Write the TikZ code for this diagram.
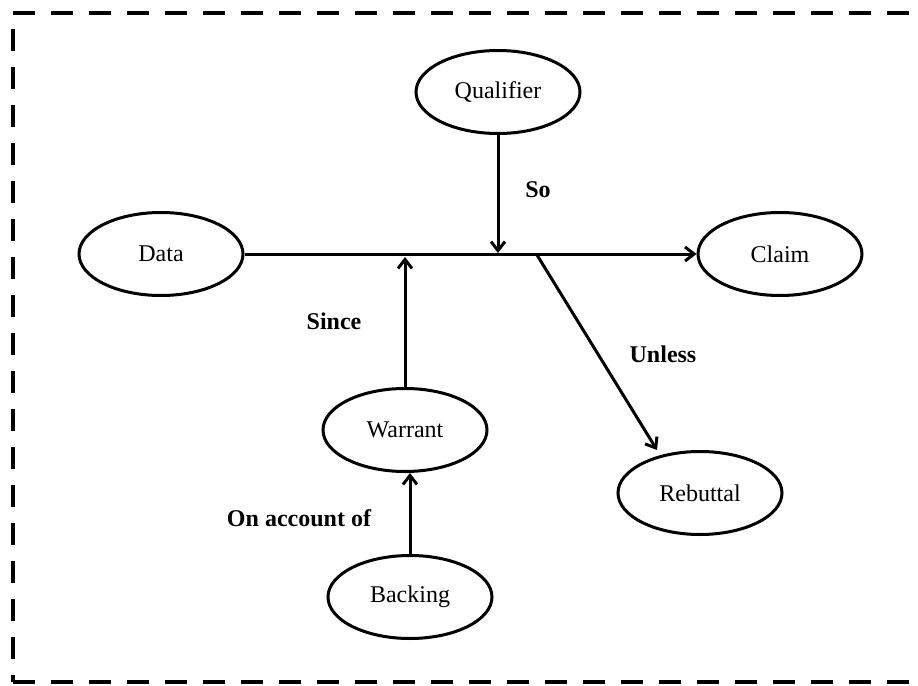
\documentclass[tikz,border=0pt]{standalone}
\usepackage{fontspec}
\setmainfont{Liberation Serif}
\usetikzlibrary{shapes.geometric,arrows.meta}
\begin{document}
\begin{tikzpicture}[x=0.5pt,y=-0.5pt,
  concept/.style={ellipse,draw,line width=1.5pt,minimum width=82pt,minimum height=41.5pt,
    inner sep=0pt,font=\fontsize{12}{14}\selectfont},
  link/.style={line width=1.5pt,-{Straight Barb[length=4.5pt,width=7pt,line width=1.5pt]}},
  tag/.style={font=\fontsize{12}{14}\selectfont\bfseries},
  frame/.style={line width=2.2pt,dash pattern=on 11pt off 8pt}]
\useasboundingbox (0,0) rectangle (918,686);
\clip (0,0) rectangle (918,686);
\fill[white] (0,0) rectangle (918,686);

% dashed frame, open past the right edge
\draw[frame] (13,13) -- (940,13);
\draw[frame,dash phase=11pt] (13,13) -- (13,682);
\draw[frame] (13,682) -- (940,682);

% Toulmin elements
\node[concept] (data) at (161,254) {Data};
\node[concept] (qual) at (498,92) {Qualifier};
\node[concept] (claim) at (780,254) {Claim};
\node[concept] (warrant) at (405,430) {Warrant};
\node[concept] (backing) at (410,597) {Backing};
\node[concept] (rebuttal) at (700,493) {Rebuttal};

% points on the main line
\coordinate (so) at (498,253);
\coordinate (since) at (405,257);
\coordinate (fork) at (537,255);
\coordinate (rebtip) at (657,450);

% connectors
\draw[link] (data) -- (claim);
\draw[link] (qual) -- (so);
\draw[link] (warrant) -- (since);
\draw[link] (backing.north) -- (backing.north |- warrant.south);
\draw[link] (fork) -- (rebtip);

% connector labels
\node[tag] (lso) at (538,190) {So};
\node[tag] (lsince) at (334,321) {Since};
\node[tag] (lunless) at (663,354) {Unless};
\node[tag] (lacc) at (299,518) {On account of};
\end{tikzpicture}
\end{document}
